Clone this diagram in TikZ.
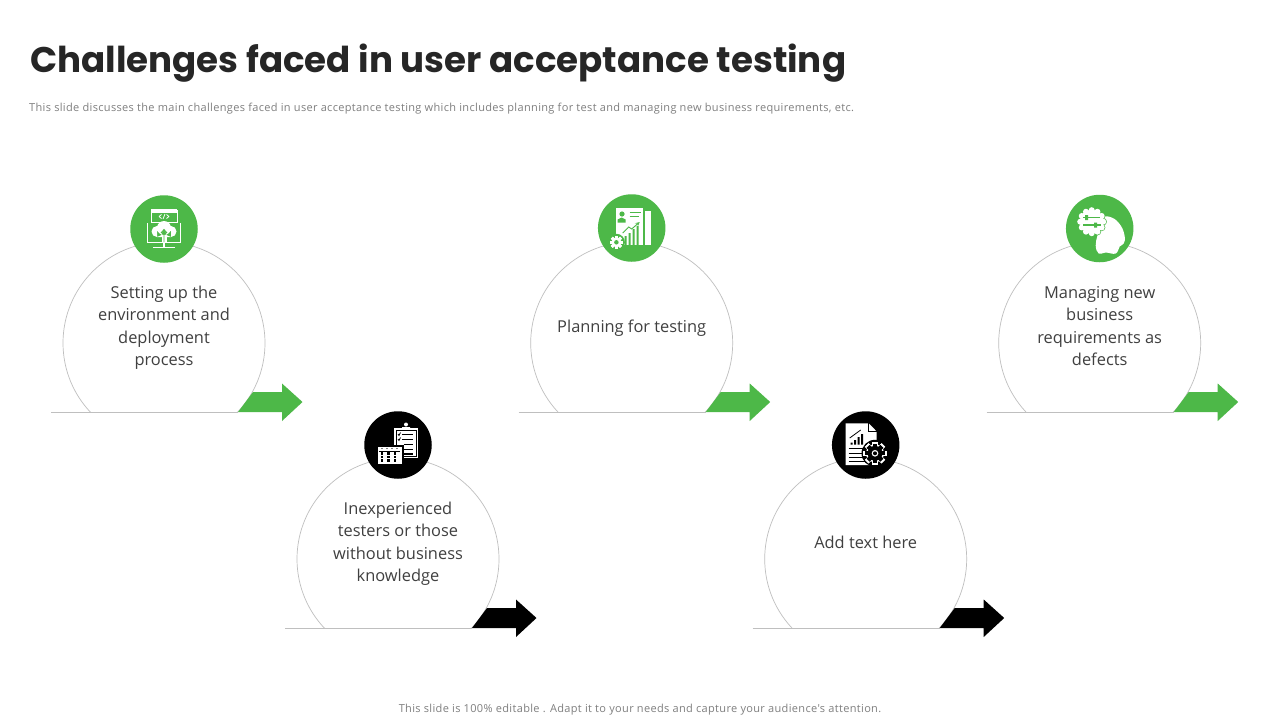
\documentclass[tikz,border=0pt]{standalone}
\usepackage{fontspec}
\setmainfont{Open Sans}
\newfontfamily\titlefont{Poppins}
\newfontfamily\notefont[LetterSpace=3.1]{Open Sans}
\definecolor{brandgreen}{HTML}{4DB848}
\definecolor{bodygray}{HTML}{404040}
\definecolor{titlegray}{HTML}{262626}
\definecolor{notegray}{HTML}{7F7F7F}
\definecolor{rulegray}{HTML}{BFBFBF}
\tikzset{
  modtext/.style={align=center,text=bodygray,font=\fontsize{16.4}{22.5}\selectfont,inner sep=0pt},
  iconcirc/.style={circle,minimum size=67.5pt,inner sep=0pt},
  rulestroke/.style={draw=rulegray,line width=0.7pt},
  notetext/.style={text=notegray,inner sep=0pt,font=\notefont\fontsize{11}{13}\selectfont},
}
% gear: x, y, radius, gear colour, background colour
\newcommand{\geardraw}[5]{%
  \begin{scope}[shift={(#1,#2)}]
    \foreach \a in {0,45,...,315}{\fill[#4,rotate=\a] (-0.28*#3,-#3*1.3) rectangle (0.28*#3,#3*1.3);}
    \fill[#4] (0,0) circle[radius=#3];
    \fill[#5] (0,0) circle[radius=0.45*#3];
  \end{scope}}
\newcommand{\module}[7]{% id, cx, cy, icon dy, colour, text, icon
  \begin{scope}[shift={(#2,#3)}]
    \begin{scope}
      \clip (-120,-120) rectangle (120,69);
      \draw[rulestroke] (0,0) circle[radius=101];
    \end{scope}
    \coordinate (ruleL#1) at (-113,69);
    \coordinate (ruleR#1) at (74,69);
    \draw[rulestroke] (ruleL#1) -- (ruleR#1);
    \fill[#5] (74,69) -- (89,49) -- (118,49) -- (118,40.5) -- (138.5,59) -- (118,78) -- (118,69) -- cycle;
    \node[iconcirc,fill=#5] (icon#1) at (0,#4) {};
    \node[modtext] (text#1) at (0,-17.5) {\rule{0pt}{19pt}#6\rule[-6pt]{0pt}{0pt}};
    \begin{scope}[shift={(0,#4)}]
      #7
    \end{scope}
  \end{scope}}
\begin{document}
\begin{tikzpicture}[x=1pt,y=-1pt]
\useasboundingbox (0,0) rectangle (1280,720);
\fill[white] (0,0) rectangle (1280,720);
\node[anchor=west,inner sep=0pt,text=titlegray,font=\titlefont\bfseries\fontsize{35.65}{44}\selectfont] (title) at (30,63.5) {Challenges faced in user acceptance testing};
\node[anchor=west,notetext] (sub) at (29,109) {This slide discusses the main challenges faced in user acceptance testing which includes planning for test and managing new business requirements, etc.};
\node[notetext] (foot) at (640,710) {This slide is 100\% editable . Adapt it to your needs and capture your audience's attention.};

\module{1}{164}{343}{-114}{brandgreen}{Setting up the\\environment and\\deployment\\process}{%
  \draw[white,line width=1pt] (-13,-19) rectangle (13,-7);
  \fill[white] (-13.3,-20) rectangle (13.3,-16.5);
  \draw[white,line width=0.8pt] (-5,-12.5) -- (-2.5,-14.5) (-5,-12.5) -- (-2.5,-10.5) (5,-12.5) -- (2.5,-14.5) (5,-12.5) -- (2.5,-10.5) (-1,-10) -- (1,-15);
  \draw[white,line width=1.5pt] (-16.5,-6) -- (-16.5,13.5) -- (16.5,13.5) -- (16.5,-6);
  \fill[white] (-1,13.5) rectangle (1,18);
  \fill[white] (-11,17.5) rectangle (11,19);
  \fill[white] (-7,2.5) circle[radius=5.5] (0,-1) circle[radius=7] (7,2.5) circle[radius=5.5] (-7,2) rectangle (7,8);
  \fill[white] (-2.5,8) rectangle (2.5,13);
  \draw[brandgreen,line width=0.9pt] (-3,4) -- (0,0.5) -- (3,4) (0,0.5) -- (0,13);
}
\module{3}{631.7}{343}{-115}{brandgreen}{Planning for testing}{%
  \fill[white] (-16,-19.7) rectangle (11.3,17);
  \fill[white] (13,-17) rectangle (19.7,17);
  \fill[brandgreen] (-9.7,-14) circle[radius=2.6];
  \fill[brandgreen] (-14,-5.5) -- (-14,-8.5) -- (-10,-10.5) -- (-6,-8.5) -- (-6,-5.5) -- cycle;
  \draw[brandgreen,line width=1pt] (-2,-15.3) -- (9.7,-15.3) (-2,-11.3) -- (7,-11.3);
  \fill[brandgreen] (-7,8) rectangle (-5,17) (-3,5) rectangle (-1,17) (1,1) rectangle (3,17) (5,-2) rectangle (7,17);
  \draw[brandgreen,line width=0.9pt,-stealth] (-9,5) -- (-3,-1) -- (0,1) -- (8,-6);
  \fill[brandgreen] (-15.3,14.3) circle[radius=8.5];
  \geardraw{-15.3}{14.3}{5}{white}{brandgreen}
}
\module{5}{1099.7}{343}{-114.5}{brandgreen}{Managing new\\business\\requirements as\\defects}{%
  \fill[white] plot[smooth cycle,tension=0.7] coordinates {(2,-10) (12,-11) (21,-3) (25,8) (24,15) (20,18) (16,25) (6,24) (-1,25) (-4,17) (-2,6)};
  \fill[brandgreen] (-8,-6.8) circle[radius=13];
  \foreach \a in {0,30,...,330}{\fill[brandgreen] (-8,-6.8) ++(\a:11.5) circle[radius=3.7];}
  \fill[white] (-8,-6.8) circle[radius=12];
  \foreach \a in {0,30,...,330}{\fill[white] (-8,-6.8) ++(\a:11.5) circle[radius=3];}
  \draw[brandgreen,line width=1.2pt] (-16.7,-11) -- (0,-11) (-16.7,-3.5) -- (1.5,-3.5);
  \fill[brandgreen] (-14.5,-13.5) rectangle (-11.5,-8.5) (-5.5,-6) rectangle (-2.5,-1);
}
\module{2}{398}{559}{-114}{black}{Inexperienced\\testers or those\\without business\\knowledge}{%
  \fill[white] (-3.7,-17.3) rectangle (20.3,13.3);
  \fill[white] (4,-18) rectangle (12,-15) (8,-20.5) circle[radius=2];
  \draw[black,line width=0.9pt] (-1.7,-15) rectangle (18.3,11.3);
  \draw[black,line width=1.1pt] (4,-10.5) -- (15,-10.5) (4,-5.5) -- (15,-5.5) (6,-0.5) -- (15,-0.5) (6,4.5) -- (15,4.5) (6,9) -- (15,9);
  \draw[black,line width=0.8pt] (0,-11) -- (1,-9.5) -- (2.5,-12.5) (0,-6) -- (1,-4.5) -- (2.5,-7.5);
  \fill[black] (-22,0) rectangle (5.5,21);
  \fill[white] (-20.3,1.7) rectangle (3.7,19.3);
  \fill[black] (-19,6) rectangle (2.4,6.6);
  \foreach \x in {-16,-9.5,-3}{\foreach \y in {8.5,12,15.5}{\fill[black] (\x-1.4,\y-1.1) rectangle (\x+1.4,\y+1.1);}}
  \foreach \x in {-16,-11,-6,-1}{\fill[black] (\x,3.5) circle[radius=0.6];}
}
\module{4}{865.7}{559}{-114}{black}{Add text here}{%
  \fill[white] (-20,-21.7) -- (3,-21.7) -- (11,-13.5) -- (11,20) -- (-20,20) -- cycle;
  \draw[black,line width=0.7pt] (3,-21.7) -- (3,-13.5) -- (11,-13.5);
  \fill[black] (-15,-2.5) rectangle (-13.2,-0.5) (-11.5,-5) rectangle (-9.5,-0.5) (-8,-8) rectangle (-6,-0.5) (-4.5,-11) rectangle (-2.5,-0.5);
  \draw[black,line width=0.8pt] (-16,-7) -- (-5,-15);
  \draw[black,line width=1.2pt] (-17,3.5) -- (-1,3.5) (-17,8.5) -- (-1,8.5) (-17,12.5) -- (-1,12.5) (-17,16.5) -- (-1,16.5);
  \fill[black] (9.3,8.3) circle[radius=13.5];
  \geardraw{9.3}{8.3}{9}{white}{black}
  \geardraw{9.3}{8.3}{7.4}{black}{white}
  \fill[black] (9.3,8.3) circle[radius=2];
}
\end{tikzpicture}
\end{document}
